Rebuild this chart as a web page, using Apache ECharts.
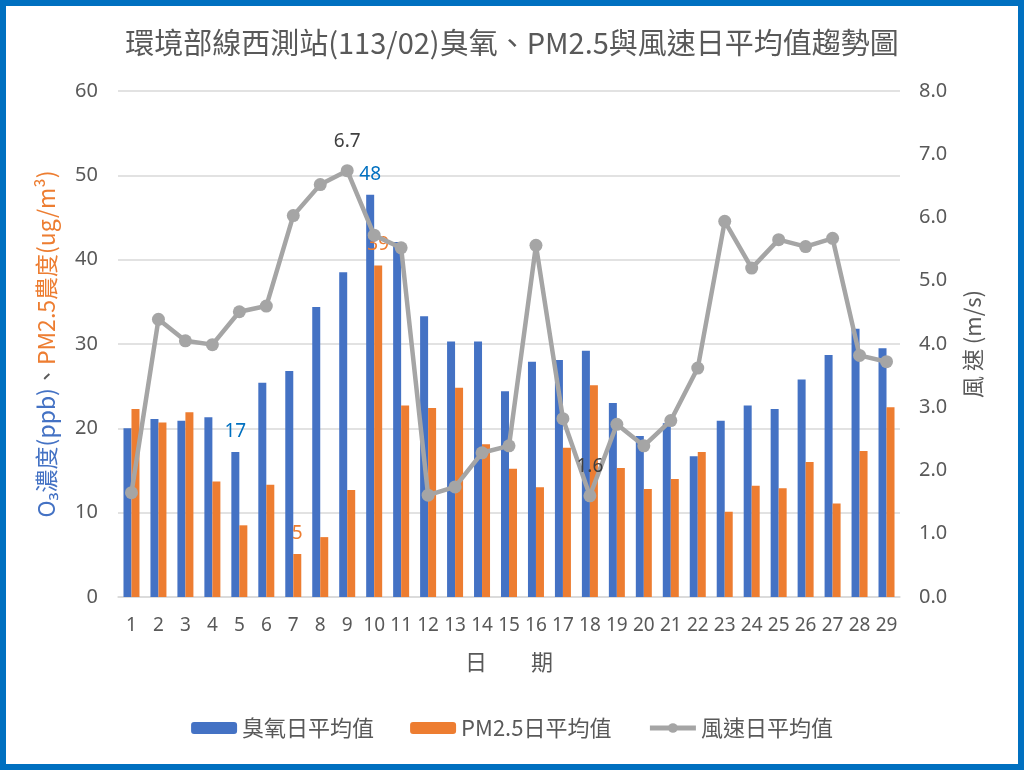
<!DOCTYPE html>
<html>
<head>
<meta charset="utf-8">
<script src="https://cdn.jsdelivr.net/npm/echarts@6/dist/echarts.min.js"></script>
<style>
html,body{margin:0;padding:0;background:#fff;}
#chart{width:1024px;height:770px;}
</style>
</head>
<body>
<div id="chart"></div>
<script>
// ---- data ----
const days = ['1','2','3','4','5','6','7','8','9','10','11','12','13','14','15','16','17','18','19','20','21','22','23','24','25','26','27','28','29'];
const o3 = [20.0,21.1,20.9,21.3,17.2,25.4,26.8,34.4,38.5,47.7,42.1,33.3,30.3,30.3,24.4,27.9,28.1,29.2,23.0,19.1,20.6,16.7,20.9,22.7,22.3,25.8,28.7,31.8,29.5];
const pm25 = [22.3,20.7,21.9,13.7,8.5,13.3,5.1,7.1,12.7,39.3,22.7,22.4,24.8,18.1,15.2,13.0,17.7,25.1,15.3,12.8,14.0,17.2,10.1,13.2,12.9,16.0,11.1,17.3,22.5];
const wind = [1.65,4.39,4.05,3.99,4.51,4.60,6.03,6.52,6.74,5.72,5.52,1.61,1.74,2.28,2.39,5.56,2.82,1.60,2.73,2.39,2.79,3.62,5.94,5.20,5.65,5.54,5.67,3.82,3.72];
const leftTicks = [0,10,20,30,40,50,60];
const rightTicks = [0,1,2,3,4,5,6,7,8];
// indices of labelled points
const o3Labelled = [4, 9];
const pmLabelled = [6, 9];
const windLabelled = [8, 17];

const gray = '#595959';
const cjk = '"Noto Sans CJK TC","Noto Sans",sans-serif';
const num = '"Noto Sans","Noto Sans CJK TC",sans-serif';

function withLabels(arr, idxs, color, digits, dist) {
  return arr.map((v, i) => idxs.includes(i) ? {
    value: v,
    label: {show: true, position: 'top', distance: dist, color: color, fontSize: 19, fontFamily: num,
            formatter: p => Number(p.value).toFixed(digits)}
  } : v);
}

const chart = echarts.init(document.getElementById('chart'));
chart.setOption({
  animation: false,
  backgroundColor: '#fff',
  title: {
    text: '環境部線西測站(113/02)臭氧、PM2.5與風速日平均值趨勢圖',
    left: 'center', top: 23,
    textStyle: {color: gray, fontSize: 29, fontWeight: 'normal', fontFamily: cjk}
  },
  graphic: [{
    type: 'rect', shape: {x: 3, y: 3, width: 1018, height: 764},
    style: {fill: 'none', stroke: '#0070C0', lineWidth: 6}, silent: true, z: 100
  }],
  grid: {left: 118, right: 124, top: 91, bottom: 173},
  legend: {
    bottom: 26, left: 'center', itemGap: 36, itemWidth: 46, itemHeight: 12,
    textStyle: {color: gray, fontSize: 22, fontFamily: cjk},
    data: ['臭氧日平均值', 'PM2.5日平均值',
           {name: '風速日平均值', lineStyle: {width: 5, color: '#A5A5A5'}, itemStyle: {color: '#A5A5A5'}}]
  },
  xAxis: {
    type: 'category', data: days,
    name: '日　　期', nameLocation: 'middle', nameGap: 54,
    nameTextStyle: {color: gray, fontSize: 22, fontFamily: cjk},
    axisLine: {lineStyle: {color: '#D9D9D9', width: 1.5}},
    axisTick: {show: false},
    axisLabel: {color: gray, fontSize: 19, fontFamily: num, margin: 19, interval: 0}
  },
  yAxis: [{
    type: 'value', min: leftTicks[0], max: leftTicks[leftTicks.length-1], interval: 10,
    name: '{b|O₃濃度(ppb)}{g|、}{o|PM2.5農度(ug/m³)}',
    nameLocation: 'middle', nameGap: 60, nameRotate: 90,
    nameTextStyle: {fontSize: 23, fontFamily: cjk,
      rich: {b: {color: '#4472C4', fontSize: 23, fontFamily: cjk},
             g: {color: gray, fontSize: 23, fontFamily: cjk},
             o: {color: '#ED7D31', fontSize: 23, fontFamily: cjk}}},
    axisLine: {show: false}, axisTick: {show: false},
    axisLabel: {color: gray, fontSize: 20, fontFamily: num, margin: 20},
    splitLine: {lineStyle: {color: '#D9D9D9', width: 1.5}}
  }, {
    type: 'value', min: rightTicks[0], max: rightTicks[rightTicks.length-1], interval: 1,
    name: '風 速 (m/s)', nameLocation: 'middle', nameGap: 62, nameRotate: 90,
    nameTextStyle: {color: gray, fontSize: 22, fontFamily: cjk},
    axisLine: {show: false}, axisTick: {show: false},
    axisLabel: {color: gray, fontSize: 20, fontFamily: num, margin: 19, formatter: v => v.toFixed(1)},
    splitLine: {show: false}
  }],
  series: [{
    name: '臭氧日平均值', type: 'bar', yAxisIndex: 0, barWidth: 8, barGap: '0%',
    itemStyle: {color: '#4472C4'},
    data: withLabels(o3, o3Labelled, '#0070C0', 0, 11), z: 2
  }, {
    name: 'PM2.5日平均值', type: 'bar', yAxisIndex: 0, barWidth: 8, barGap: '0%',
    itemStyle: {color: '#ED7D31'},
    data: withLabels(pm25, pmLabelled, '#ED7D31', 0, 11), z: 2
  }, {
    name: '風速日平均值', type: 'line', yAxisIndex: 1,
    symbol: 'circle', symbolSize: 13,
    lineStyle: {color: '#A5A5A5', width: 4.5},
    itemStyle: {color: '#A5A5A5'},
    data: withLabels(wind, windLabelled, '#404040', 1, 13), z: 5
  }]
});
</script>
</body>
</html>
